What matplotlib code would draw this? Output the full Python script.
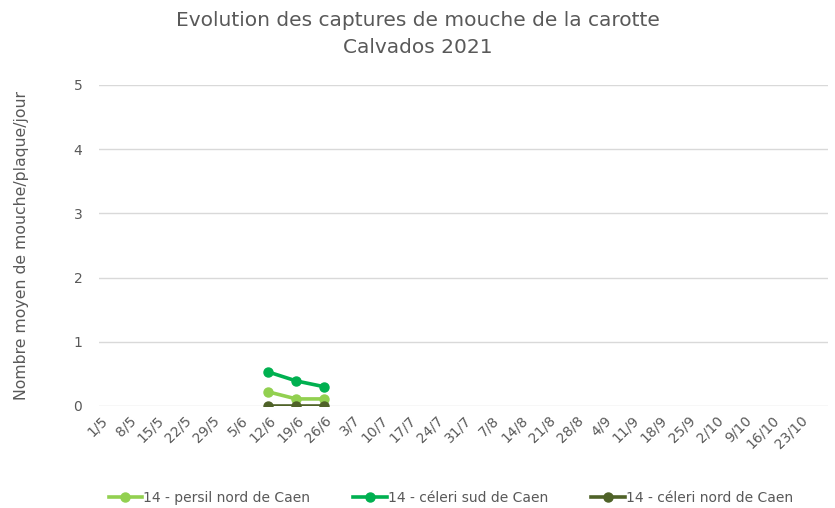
import numpy as np
import matplotlib.pyplot as plt

# categories (weekly dates)
dates = ["1/5", "8/5", "15/5", "22/5", "29/5", "5/6", "12/6", "19/6", "26/6",
         "3/7", "10/7", "17/7", "24/7", "31/7", "7/8", "14/8", "21/8", "28/8",
         "4/9", "11/9", "18/9", "25/9", "2/10", "9/10", "16/10", "23/10"]

# series (only 12/6, 19/6, 26/6 observed)
obs_dates = ["12/6", "19/6", "26/6"]
persil_nord = [0.22, 0.11, 0.11]
celeri_sud = [0.53, 0.39, 0.30]
celeri_nord = [0.0, 0.0, 0.0]

series = [
    ("14 - persil nord de Caen", persil_nord, "#92D050"),
    ("14 - céleri sud de Caen", celeri_sud, "#00B050"),
    ("14 - céleri nord de Caen", celeri_nord, "#4F6228"),
]

grey = "#595959"

fig = plt.figure(figsize=(8.35, 5.08), dpi=100)
ax = fig.add_axes([0.1186, 0.2008, 0.873, 0.632])

x_obs = [dates.index(d) for d in obs_dates]
for label, vals, col in series:
    ax.plot(x_obs, vals, color=col, linewidth=2.6, marker="o", markersize=6.5,
            label=label, zorder=3)

ax.set_ylim(0, 5)
ax.set_xlim(-0.05, 26)
ax.set_yticks(range(0, 6))
ax.set_xticks(range(len(dates)))
ax.set_xticklabels(dates, rotation=45, ha="right", rotation_mode="anchor")
ax.grid(axis="y", color="#D9D9D9", linewidth=1)
ax.set_axisbelow(True)
for s in ax.spines.values():
    s.set_visible(False)
ax.tick_params(axis="both", length=0, colors=grey, labelsize=10)
ax.tick_params(axis="x", labelsize=10, pad=5)
ax.tick_params(axis="y", pad=12)

ax.set_ylabel("Nombre moyen de mouche/plaque/jour", color=grey, fontsize=11.3, labelpad=32)
fig.suptitle("Evolution des captures de mouche de la carotte\nCalvados 2021",
             color=grey, fontsize=14.5, y=0.978, linespacing=1.5)

fig.legend(loc="lower center", bbox_to_anchor=(0.54, -0.018), ncol=3, frameon=False,
           fontsize=10, handlelength=2.4, columnspacing=3.1, handletextpad=0.1,
           labelcolor=grey)

plt.savefig("out.png", dpi=100)
